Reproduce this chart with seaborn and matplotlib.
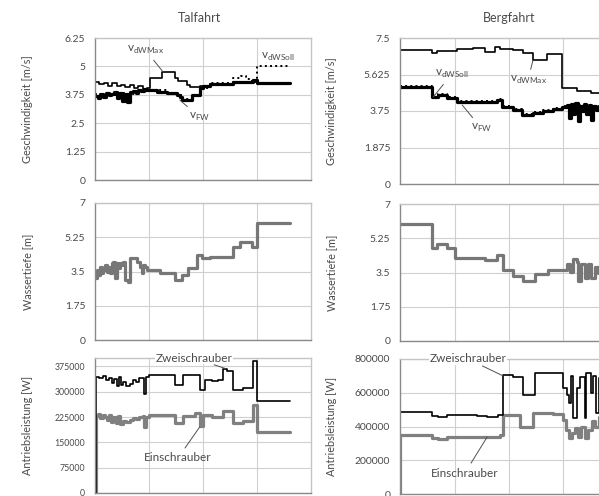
import matplotlib
matplotlib.use("Agg")
import matplotlib.pyplot as plt
import seaborn as sns

# Talfahrt - Geschwindigkeiten [m/s]
tal_x_fw = [0, .05, .1, .15, .2, .25, .3, .35, .4, .45, .5, .55, .6, .65, .7, .75, .8, .85, .9, .95,
            1.0, 1.15, 1.33, 1.52, 1.57, 1.61, 1.80, 1.94, 2.0, 2.13, 2.56, 2.93, 3.0, 3.61]
tal_v_fw = [3.70, 3.62, 3.78, 3.66, 3.85, 3.72, 3.80, 3.88, 3.60, 3.82, 3.48, 3.80, 3.45, 3.86, 3.92,
            3.84, 3.96, 3.90, 4.00, 3.95, 3.96, 3.89, 3.82, 3.74, 3.67, 3.52, 3.74, 4.04, 4.15, 4.23,
            4.33, 4.40, 4.26, 4.26]
tal_x_max = [0, .08, .16, .24, .32, .40, .48, .56, .64, .72, .80, .88, .96, 1.02, 1.24, 1.48, 1.54,
             1.70, 1.76, 1.94, 2.13, 2.56, 2.93, 3.0, 3.61]
tal_v_max = [4.33, 4.22, 4.28, 4.12, 4.25, 4.15, 4.20, 4.08, 4.18, 4.05, 4.12, 4.02, 4.05, 4.48, 4.77,
             4.48, 4.36, 4.18, 4.11, 4.15, 4.23, 4.33, 4.40, 4.26, 4.26]
tal_x_soll = [0, .2, .4, .6, .8, 1.0, 1.33, 1.52, 1.61, 1.80, 1.94, 2.13, 2.56, 2.70, 2.80, 2.91, 3.0, 3.61]
tal_v_soll = [3.78, 3.74, 3.82, 3.80, 3.92, 3.96, 3.84, 3.76, 3.55, 3.76, 4.06, 4.25, 4.48, 4.56, 4.45,
              4.33, 5.0, 5.0]

# Talfahrt - Wassertiefe [m]
tal_x_depth = [0, .04, .06, .09, .13, .15, .19, .22, .24, .28, .31, .33, .37, .41, .43, .46, .50, .52,
               .56, .61, .65, .78, .83, .87, .89, .93, .96, .98, 1.20, 1.48, 1.61, 1.72, 1.89, 1.98,
               2.13, 2.56, 2.69, 2.91, 3.0, 3.61]
tal_depth = [3.15, 3.58, 3.30, 3.75, 3.40, 3.58, 3.83, 3.50, 3.75, 3.40, 3.92, 4.00, 3.15, 3.92, 3.66,
             3.92, 3.83, 4.00, 3.07, 2.98, 4.17, 4.00, 3.75, 3.41, 3.83, 3.75, 3.58, 3.58, 3.41, 3.07,
             3.32, 3.66, 4.34, 4.17, 4.26, 4.77, 5.02, 4.77, 5.99, 5.99]

# Talfahrt - Antriebsleistung [W]
tal_x_zwei = [0, .02, .08, .14, .2, .26, .32, .36, .4, .44, .48, .52, .58, .64, .7, .76, .82, .86, .9,
              .95, 1.0, 1.48, 1.63, 1.94, 2.04, 2.17, 2.28, 2.37, 2.44, 2.56, 2.74, 2.93, 3.0, 3.61]
tal_zwei = [0, 345000, 340000, 348000, 335000, 342000, 325000, 338000, 318000, 345000, 320000, 330000,
            318000, 322000, 335000, 328000, 340000, 340000, 292000, 345000, 351000, 321000, 351000,
            306000, 336000, 331000, 336000, 366000, 361000, 306000, 312000, 391000, 272000, 272000]
tal_x_ein = [0, .02, .06, .1, .14, .18, .22, .26, .3, .34, .38, .42, .46, .52, .58, .64, .70, .76, .82,
             .88, .9, .95, 1.0, 1.48, 1.63, 1.85, 1.94, 2.0, 2.17, 2.37, 2.56, 2.74, 2.93, 3.0, 3.61]
tal_ein = [0, 228000, 235000, 222000, 232000, 226000, 215000, 230000, 210000, 225000, 208000, 228000,
           205000, 212000, 210000, 215000, 222000, 218000, 225000, 228000, 197000, 225000, 232000,
           207000, 227000, 237000, 200000, 232000, 226000, 242000, 207000, 212000, 262000, 182000, 182000]

# Bergfahrt - Geschwindigkeiten [m/s]
berg_x_max = [0, .59, .68, 1.05, 1.34, 1.56, 1.74, 1.83, 2.07, 2.26, 2.44, 2.70, 2.97, 3.25, 3.5, 4.0]
berg_v_max = [6.88, 6.71, 6.85, 6.92, 6.97, 6.80, 7.02, 6.92, 6.88, 6.75, 6.37, 6.68, 4.92, 4.78, 4.70, 4.70]
berg_x_fw = [0, .59, .70, .86, 1.05, 1.78, 1.87, 2.07, 2.24, 2.44, 2.62, 2.80, 2.97, 3.06, 3.10, 3.14,
             3.18, 3.22, 3.26, 3.30, 3.34, 3.38, 3.42, 3.46, 3.50, 3.55, 3.60, 3.65, 3.70, 3.80, 4.0]
berg_v_fw = [4.97, 4.49, 4.57, 4.40, 4.23, 4.31, 3.94, 3.80, 3.54, 3.63, 3.75, 3.85, 3.95, 4.05, 3.40,
             4.10, 3.60, 4.15, 3.25, 4.00, 3.75, 4.12, 3.62, 4.08, 3.30, 4.02, 3.78, 3.95, 3.85, 3.90, 3.90]
berg_x_soll = [0, .59, .70, .86, 1.05, 1.78, 1.87, 2.07, 2.24, 2.44, 2.62, 2.80, 2.97, 3.2, 3.5, 4.0]
berg_v_soll = [5.02, 4.55, 4.62, 4.46, 4.28, 4.36, 3.99, 3.86, 3.59, 3.68, 3.80, 3.90, 4.00, 4.05, 4.0, 4.0]

# Bergfahrt - Wassertiefe [m]
berg_x_depth = [0, .59, .68, .86, 1.01, 1.56, 1.78, 1.89, 2.07, 2.26, 2.48, 2.72, 3.06, 3.12, 3.18,
                3.24, 3.27, 3.33, 3.39, 3.45, 3.51, 3.57, 3.63, 3.7, 3.8, 3.9, 4.0]
berg_depth = [6.0, 4.77, 4.97, 4.77, 4.26, 4.12, 4.39, 3.61, 3.32, 3.07, 3.41, 3.61, 3.92, 3.55, 4.17,
              4.05, 3.07, 3.95, 3.2, 3.92, 3.2, 3.8, 3.5, 3.9, 3.6, 3.8, 3.8]

# Bergfahrt - Antriebsleistung [W]
berg_x_zwei = [0, .005, .59, .70, .86, 1.41, 1.60, 1.80, 1.89, 2.07, 2.26, 2.48, 2.99, 3.06, 3.10,
               3.14, 3.18, 3.24, 3.31, 3.39, 3.42, 3.50, 3.55, 3.60, 3.65, 3.75, 4.0]
berg_zwei = [0, 488000, 462000, 454000, 468000, 462000, 458000, 468000, 705000, 695000, 587000, 715000,
             628000, 587000, 540000, 700000, 450000, 628000, 693000, 450000, 715000, 600000, 700000,
             480000, 690000, 650000, 650000]
berg_x_ein = [0, .005, .59, .70, .86, 1.83, 1.89, 2.20, 2.44, 2.80, 2.99, 3.04, 3.10, 3.16, 3.22, 3.27,
              3.33, 3.39, 3.45, 3.52, 3.58, 3.65, 3.75, 4.0]
berg_ein = [0, 350000, 330000, 326000, 340000, 350000, 470000, 399000, 482000, 475000, 438000, 380000,
            330000, 361000, 391000, 340000, 395000, 330000, 380000, 430000, 400000, 458000, 440000, 440000]

# axis ticks
tal_v_ticks = [0, 1.25, 2.5, 3.75, 5, 6.25]
berg_v_ticks = [0, 1.875, 3.75, 5.625, 7.5]
depth_ticks = [0, 1.75, 3.5, 5.25, 7]
tal_p_ticks = [0, 75000, 150000, 225000, 300000, 375000]
berg_p_ticks = [0, 200000, 400000, 600000, 800000]

sns.set_style("white")
plt.rcParams['font.family'] = ['Lato', 'DejaVu Sans']

TXT = '#4a4a4a'
W, H = 599, 496
fig = plt.figure(figsize=(W / 100, H / 100), dpi=100)


def make_ax(x0, x1, y0, y1):
    return fig.add_axes([x0 / W, 1 - y1 / H, (x1 - x0) / W, (y1 - y0) / H])


def style_ax(ax, ymax, yticks, ylabel, tick_size=7.5):
    ax.set_xlim(0, 4)
    ax.set_ylim(0, ymax)
    ax.set_xticks([1, 2, 3])
    ax.set_yticks(yticks)
    ax.set_yticklabels([f"{t:g}" if t < 1000 else f"{int(t)}" for t in yticks])
    ax.tick_params(axis='x', length=0, labelbottom=False)
    ax.tick_params(axis='y', length=0, pad=7, labelsize=tick_size, labelcolor=TXT)
    ax.grid(True, color='#d0d0d0', lw=0.8)
    ax.set_axisbelow(True)
    for side in ['top', 'right']:
        ax.spines[side].set_color('#c4c4c4')
    for side in ['left', 'bottom']:
        ax.spines[side].set_color('#8a8a8a')
    for s in ax.spines.values():
        s.set_linewidth(1.0)
    ax.set_xlabel('')
    ax.set_ylabel(ylabel, fontsize=7.8, color=TXT)
    ax.yaxis.set_label_coords(-0.287, 0.5)


def steps(ax, x, y, color, lw, ls='-'):
    sns.lineplot(x=x, y=y, ax=ax, color=color, lw=lw, linestyle=ls,
                 drawstyle='steps-post', estimator=None, sort=False)


def label(ax, text, xy, xytext, bg=False):
    kw = dict(bbox=dict(fc='white', ec='none', pad=0.6)) if bg else {}
    ax.annotate(text, xy=xy, xytext=xytext, ha='center', va='center', fontsize=8.5, color=TXT,
                arrowprops=dict(arrowstyle='-', color='#505050', lw=0.7, shrinkA=1, shrinkB=0),
                annotation_clip=False, **kw)


# Talfahrt
ax1 = make_ax(95, 311, 38, 180)
steps(ax1, tal_x_max, tal_v_max, 'black', 1.2)
steps(ax1, tal_x_fw, tal_v_fw, 'black', 2.3)
steps(ax1, tal_x_soll, tal_v_soll, 'black', 1.4, ':')
style_ax(ax1, 6.25, tal_v_ticks, 'Geschwindigkeit [m/s]')
label(ax1, r'v$_{\mathregular{dWMax}}$', (1.26, 4.76), (0.93, 5.73))
label(ax1, r'v$_{\mathregular{FW}}$', (1.57, 3.52), (1.93, 2.78))
label(ax1, r'v$_{\mathregular{dWSoll}}$', (3.0, 4.98), (3.39, 5.42))

ax2 = make_ax(95, 311, 203, 340)
steps(ax2, tal_x_depth, tal_depth, '#777777', 2.3)
style_ax(ax2, 7, depth_ticks, 'Wassertiefe [m]')

ax3 = make_ax(95, 311, 358, 493)
steps(ax3, tal_x_ein, tal_ein, '#808080', 2.3)
steps(ax3, tal_x_zwei, tal_zwei, 'black', 1.2)
style_ax(ax3, 400000, tal_p_ticks, 'Antriebsleistung [W]', tick_size=6.3)
label(ax3, 'Zweischrauber', (2.41, 369000), (1.83, 400000), bg=True)
label(ax3, 'Einschrauber', (1.94, 196000), (1.54, 104000))

# Bergfahrt
ax4 = make_ax(400, 618, 38, 184)
steps(ax4, berg_x_max, berg_v_max, 'black', 1.2)
steps(ax4, berg_x_fw, berg_v_fw, 'black', 2.3)
steps(ax4, berg_x_soll, berg_v_soll, 'black', 1.4, ':')
style_ax(ax4, 7.5, berg_v_ticks, 'Geschwindigkeit [m/s]')
label(ax4, r'v$_{\mathregular{dWSoll}}$', (0.61, 4.47), (0.95, 5.65))
label(ax4, r'v$_{\mathregular{dWMax}}$', (2.44, 6.37), (2.35, 5.34))
label(ax4, r'v$_{\mathregular{FW}}$', (1.14, 4.06), (1.49, 2.88))

ax5 = make_ax(400, 618, 204, 341)
steps(ax5, berg_x_depth, berg_depth, '#777777', 2.3)
style_ax(ax5, 7, depth_ticks, 'Wassertiefe [m]')

ax6 = make_ax(400, 618, 359, 494)
steps(ax6, berg_x_ein, berg_ein, '#808080', 2.3)
steps(ax6, berg_x_zwei, berg_zwei, 'black', 1.2)
style_ax(ax6, 800000, berg_p_ticks, 'Antriebsleistung [W]')
label(ax6, 'Zweischrauber', (1.89, 700000), (1.25, 800000), bg=True)
label(ax6, 'Einschrauber', (1.60, 338000), (1.19, 124000))

fig.text(200 / W, 1 - 18 / H, 'Talfahrt', ha='center', va='center', fontsize=9, color=TXT)
fig.text(509 / W, 1 - 18 / H, 'Bergfahrt', ha='center', va='center', fontsize=9, color=TXT)

fig.savefig('out.png', dpi=100)
